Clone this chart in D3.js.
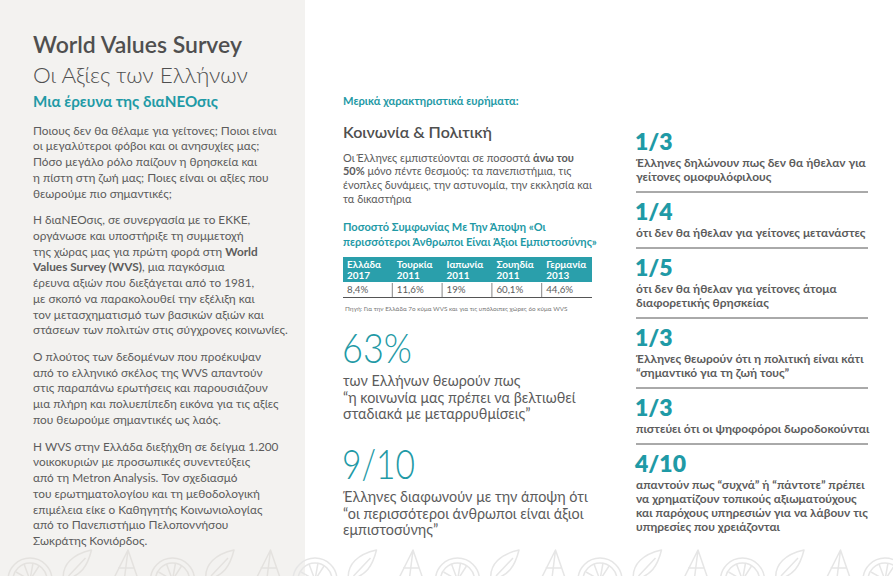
<!DOCTYPE html>
<html><head><meta charset="utf-8">
<script src="https://cdn.jsdelivr.net/npm/d3@7"></script>
<style>
body{margin:0;background:#fff}
svg{display:block}
text{font-family:Lato,"Noto Sans",sans-serif}
</style>
</head><body>
<svg id="c" width="893" height="576"></svg>
<script>
// ---------- DATA ----------
const titleLines = ["World Values Survey", "Οι Αξίες των Ελλήνων"];
const subtitle = "Μια έρευνα της διαΝΕΟσις";
const leftParagraphs = [
 ["Ποιους δεν θα θέλαμε για γείτονες; Ποιοι είναι","οι μεγαλύτεροι φόβοι και οι ανησυχίες μας;","Πόσο μεγάλο ρόλο παίζουν η θρησκεία και","η πίστη στη ζωή μας; Ποιες είναι οι αξίες που","θεωρούμε πιο σημαντικές;"],
 ["Η διαΝΕΟσις, σε συνεργασία με το ΕΚΚΕ,","οργάνωσε και υποστήριξε τη συμμετοχή","της χώρας μας για πρώτη φορά στη **World**","**Values Survey (WVS)**, μια παγκόσμια","έρευνα αξιών που διεξάγεται από το 1981,","με σκοπό να παρακολουθεί την εξέλιξη και","τον μετασχηματισμό των βασικών αξιών και","στάσεων των πολιτών στις σύγχρονες κοινωνίες."],
 ["Ο πλούτος των δεδομένων που προέκυψαν","από το ελληνικό σκέλος της WVS απαντούν","στις παραπάνω ερωτήσεις και παρουσιάζουν","μια πλήρη και πολυεπίπεδη εικόνα για τις αξίες","που θεωρούμε σημαντικές ως λαός."],
 ["Η WVS στην Ελλάδα διεξήχθη σε δείγμα 1.200","νοικοκυριών με προσωπικές συνεντεύξεις","από τη Metron Analysis. Τον σχεδιασμό","του ερωτηματολογίου και τη μεθοδολογική","επιμέλεια είκε ο Καθηγητής Κοινωνιολογίας","από το Πανεπιστήμιο Πελοποννήσου","Σωκράτης Κονιόρδος."]
];
const findingsLabel = "Μερικά χαρακτηριστικά ευρήματα:";
const sectionTitle = "Κοινωνία & Πολιτική";
const sectionText = ["Οι Έλληνες εμπιστεύονται σε ποσοστά **άνω του**","**50%** μόνο πέντε θεσμούς: τα πανεπιστήμια, τις","ένοπλες δυνάμεις, την αστυνομία, την εκκλησία και","τα δικαστήρια"];
const tableTitle = ["Ποσοστό Συμφωνίας Με Την Άποψη «Οι","περισσότεροι Άνθρωποι Είναι Άξιοι Εμπιστοσύνης»"];
const tableCountries = ["Ελλάδα","Τουρκία","Ιαπωνία","Σουηδία","Γερμανία"];
const tableYears = ["2017","2011","2011","2011","2013"];
const tableValues = [8.4, 11.6, 19, 60.1, 44.6];
const sourceNote = "Πηγή: Για την Ελλάδα 7ο κύμα WVS και για τις υπόλοιπες χώρες 6ο κύμα WVS";
const bigFigures = ["63%", "9/10"];
const bigTexts = [
 ["των Ελλήνων θεωρούν πως","“η κοινωνία μας πρέπει να βελτιωθεί","σταδιακά με μεταρρυθμίσεις”"],
 ["Έλληνες διαφωνούν με την άποψη ότι","“οι περισσότεροι άνθρωποι είναι άξιοι","εμπιστοσύνης”"]
];
const statFigures = ["1/3","1/4","1/5","1/3","1/3","4/10"];
const statTexts = [
 ["Έλληνες δηλώνουν πως δεν θα ήθελαν για","γείτονες ομοφυλόφιλους"],
 ["ότι δεν θα ήθελαν για γείτονες μετανάστες"],
 ["ότι δεν θα ήθελαν για γείτονες άτομα","διαφορετικής θρησκείας"],
 ["Έλληνες θεωρούν ότι η πολιτική είναι κάτι","“σημαντικό για τη ζωή τους”"],
 ["πιστεύει ότι οι ψηφοφόροι δωροδοκούνται"],
 ["απαντούν πως “συχνά” ή “πάντοτε” πρέπει","να χρηματίζουν τοπικούς αξιωματούχους","και παρόχους υπηρεσιών για να λάβουν τις","υπηρεσίες που χρειάζονται"]
];
const decoKinds = ["circle","leaf","cone","circle","leaf","cone","circle","leaf","cone","circle","leaf","cone","circle","leaf","cone","circle","leaf","cone","circle"];

// ---------- STYLE ----------
const TEAL = "#1f9aa6", HEAD = "#2a9fab", GRAY = "#5c5c5c", DARK = "#4f4f4f", PANEL = "#f3f2f0";
const W = 893, H = 576;
const svg = d3.select("#c");

function rich(t, str, boldWeight){
  str.split("**").forEach((seg,i)=>{
    if(!seg) return;
    t.append("tspan").text(seg).attr("font-weight", i%2 ? (boldWeight||700) : null);
  });
  return t;
}
function fitSize(g, refText, size, weight, target){
  const t = g.append("text").attr("font-size", size).attr("font-weight", weight).attr("x",-9999).attr("y",-9999);
  rich(t, refText);
  const w = t.node().getComputedTextLength();
  t.remove();
  return size * target / w;
}
function block(g, lines, x, y0, lh, size, weight, color, bw){
  lines.forEach((ln,i)=>{
    const t = g.append("text").attr("x",x).attr("y",y0+i*lh)
      .attr("font-size",size).attr("font-weight",weight).attr("fill",color);
    rich(t, ln, bw);
  });
}

// ---------- BACKGROUND ----------
svg.append("rect").attr("width",W).attr("height",H).attr("fill","#fff");
svg.append("rect").attr("width",305).attr("height",H).attr("fill",PANEL);

// decorative line-art strip
const deco = svg.append("g").attr("fill","none").attr("stroke-width",1.5).attr("stroke-linejoin","round");
const dx = d3.scaleLinear().domain([0, decoKinds.length-1]).range([30, 885]);
decoKinds.forEach((k,i)=>{
  const x = dx(i), y = 580;
  const g = deco.append("g").attr("transform",`translate(${x},${y})`).attr("stroke", x<305 ? "#e4e2df" : "#e6e6e6");
  if(k==="circle"){
    g.append("circle").attr("r",22);
    g.append("circle").attr("r",17);
    g.append("path").attr("d","M-14,-8 L0,0 L9,-14 M0,0 L3,-17 M0,0 L-6,-16");
  } else if(k==="leaf"){
    g.append("path").attr("d","M-14,0 C-16,-16 -4,-26 14,-30 C10,-14 4,-4 -14,0 Z M-9,-4 L8,-22");
  } else {
    g.append("path").attr("d","M-13,2 L3,-30 L14,2 M3,-30 L-1,2 M-7,-12 L9,-12");
  }
});

// ---------- LEFT PANEL ----------
const L = svg.append("g");
const tSize = fitSize(L, titleLines[0], 20, 600, 209);
L.append("text").attr("x",33).attr("y",53).attr("font-size",tSize).attr("font-weight",600).attr("fill",DARK).text(titleLines[0]);
const t2Size = fitSize(L, titleLines[1], 20, 300, 215);
L.append("text").attr("x",33).attr("y",83).attr("font-size",t2Size).attr("font-weight",300).attr("fill",DARK).text(titleLines[1]);
const sSize = fitSize(L, subtitle, 14, 700, 185);
L.append("text").attr("x",33).attr("y",107).attr("font-size",sSize).attr("font-weight",700).attr("fill",TEAL).text(subtitle);

const bSize = fitSize(L, leftParagraphs[0][0], 12, 400, 244);
let yy = 131 + bSize*0.3;
leftParagraphs.forEach(p=>{
  block(L, p, 33, yy, 15.75, bSize, 400, GRAY, 700);
  yy += (p.length-1)*15.75 + 26.6;
});

// ---------- MIDDLE COLUMN ----------
const M = svg.append("g");
const X0 = 343;
const fSize = fitSize(M, findingsLabel, 9.5, 700, 176);
M.append("text").attr("x",X0).attr("y",105).attr("font-size",fSize).attr("font-weight",700).attr("fill",TEAL).text(findingsLabel);
const stSize = fitSize(M, sectionTitle, 17, 600, 149);
M.append("text").attr("x",X0).attr("y",138).attr("font-size",stSize).attr("font-weight",600).attr("fill",DARK).text(sectionTitle);
const pSize = fitSize(M, sectionText[2], 10, 400, 249);
block(M, sectionText, X0, 158 + pSize*0.32, 13.7, pSize, 400, GRAY, 700);

const ttSize = fitSize(M, tableTitle[1], 10.5, 700, 254);
block(M, tableTitle, X0, 227 + ttSize*0.32, 15, ttSize, 700, TEAL);

// table
const colX = d3.scaleBand().domain(tableCountries).range([343, 592]);
const fmt = d3.formatLocale({decimal:",", thousands:".", grouping:[3], currency:["","€"]}).format(".3~r");
M.append("rect").attr("x",colX.range()[0]).attr("y",257).attr("width",colX.range()[1]-colX.range()[0]).attr("height",25).attr("fill",HEAD);
const hSize = fitSize(M, "Γερμανία", 9, 700, 40);
const cells = M.selectAll("g.col").data(tableCountries).join("g").attr("class","col");
cells.append("text").attr("x",d=>colX(d)+4).attr("y",268).attr("font-size",hSize).attr("font-weight",700).attr("fill","#fff").text(d=>d);
cells.append("text").attr("x",d=>colX(d)+4).attr("y",279).attr("font-size",hSize).attr("font-weight",700).attr("fill","#fff").text((d,i)=>tableYears[i]);
cells.append("text").attr("x",d=>colX(d)+4).attr("y",293).attr("font-size",hSize*0.98).attr("fill",GRAY).text((d,i)=>fmt(tableValues[i])+"%");
cells.filter((d,i)=>i>0).append("line").attr("x1",d=>colX(d)-0.5).attr("x2",d=>colX(d)-0.5).attr("y1",283).attr("y2",297).attr("stroke","#666").attr("stroke-width",0.8);
M.append("line").attr("x1",343).attr("x2",592).attr("y1",297.5).attr("y2",297.5).attr("stroke","#555").attr("stroke-width",1);
const snSize = fitSize(M, sourceNote, 6, 400, 223);
M.append("text").attr("x",345).attr("y",311).attr("font-size",snSize).attr("fill","#777").text(sourceNote);

// big figures
const bfSize = 42;
const bfWidths = [70, 73];
const btSize = fitSize(M, bigTexts[0][1], 14, 400, 233);
const bigBase = [363, 479];
bigFigures.forEach((f,i)=>{
  M.append("text").attr("x",X0-1).attr("y",bigBase[i]).attr("font-size",bfSize).attr("font-weight",300)
    .attr("fill",TEAL).attr("textLength",bfWidths[i]).attr("lengthAdjust","spacingAndGlyphs").text(f);
  block(M, bigTexts[i], X0, bigBase[i] + 19 + btSize*0.3, 16.2, btSize, 400, GRAY);
});

// ---------- RIGHT COLUMN ----------
const R = svg.append("g");
const X1 = 636;
const sfSize = fitSize(R, statFigures[5], 24, 800, 51);
const stxSize = fitSize(R, statTexts[5][2], 10.5, 700, 232);
let by = 150;
const LH = 14, A = 13, B = 15, C = 28;
statFigures.forEach((f,i)=>{
  R.append("text").attr("x",X1-1).attr("y",by).attr("font-size",sfSize).attr("font-weight",800).attr("fill",TEAL).text(f);
  const lines = statTexts[i];
  const c0 = by + A;
  block(R, lines, X1, c0 + stxSize*0.32, LH, stxSize, 700, GRAY);
  const sepY = c0 + (lines.length-1)*LH + B;
  if(i < statFigures.length-1){
    R.append("line").attr("x1",X1).attr("x2",868).attr("y1",sepY).attr("y2",sepY).attr("stroke","#555").attr("stroke-width",1);
  }
  by = sepY + C;
});
</script>
</body></html>
